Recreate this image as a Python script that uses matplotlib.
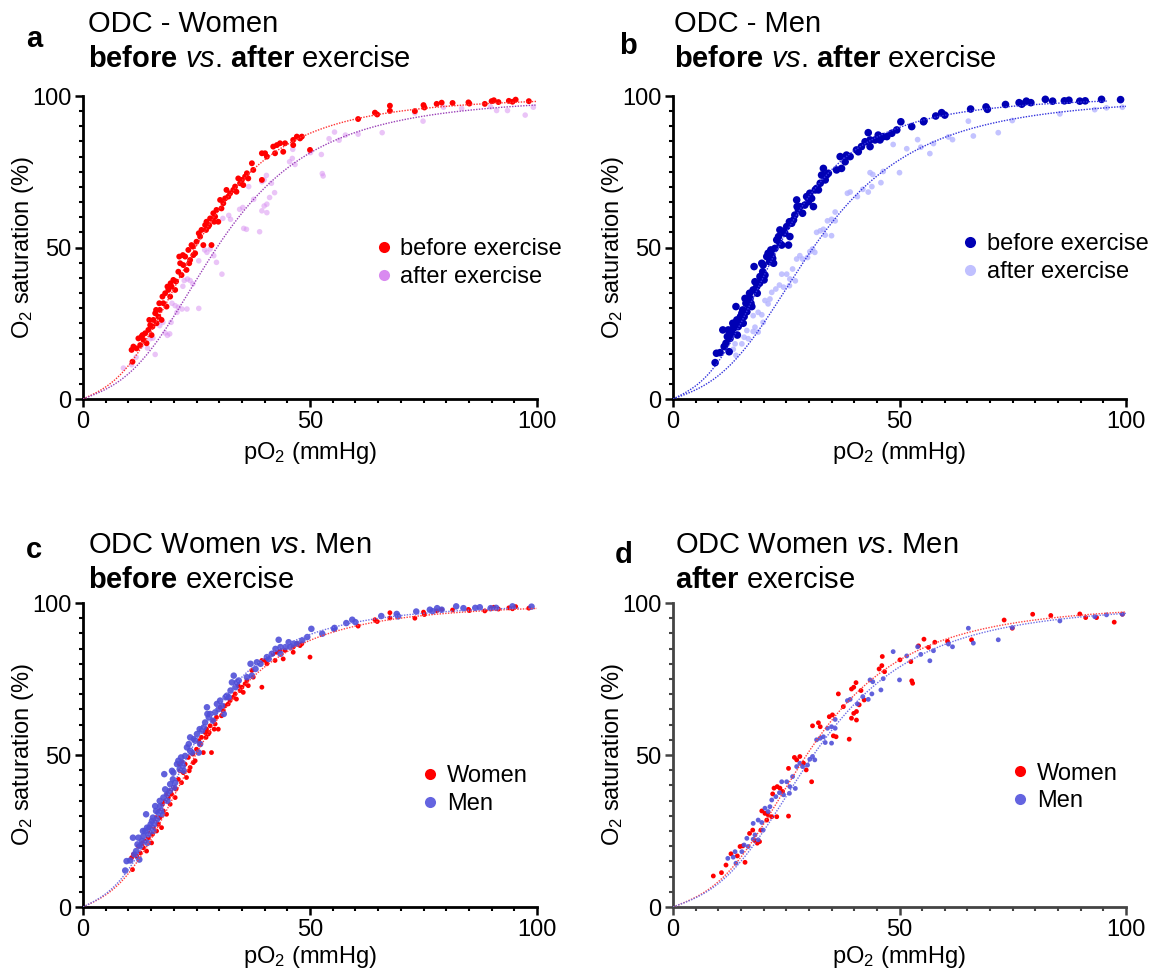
import numpy as np
import matplotlib
matplotlib.use('Agg')
import matplotlib.pyplot as plt
from matplotlib.ticker import MultipleLocator
from matplotlib.lines import Line2D

plt.rcParams['font.family'] = ['Liberation Sans', 'DejaVu Sans']
plt.rcParams['mathtext.fontset'] = 'custom'
plt.rcParams['mathtext.rm'] = 'Liberation Sans'
plt.rcParams['mathtext.it'] = 'Liberation Sans:italic'
plt.rcParams['mathtext.bf'] = 'Liberation Sans:bold'

# pO2 (mmHg), O2 saturation (%)
women_before = np.array([
    (10.9, 12.3), (11.1, 17.3), (11.8, 16.7), (12.6, 17.8), (12.9, 20.6), (13.3, 19.5), (13.7, 21.7),
    (14.0, 18.4), (14.4, 22.8), (14.8, 24.4), (15.1, 21.1), (15.5, 26.1), (15.9, 28.3), (16.2, 25.0),
    (16.6, 27.2), (16.9, 29.4), (17.3, 26.1), (17.7, 31.6), (18.1, 34.9), (18.4, 30.5), (18.8, 36.0),
    (19.2, 33.8), (19.5, 37.1), (19.9, 39.3), (20.3, 36.0), (21.0, 42.0), (21.4, 44.8), (21.7, 40.9),
    (22.1, 44.2), (22.5, 47.0), (22.8, 42.6), (23.2, 49.2), (23.6, 45.9), (23.9, 50.8), (24.3, 47.5),
    (24.7, 48.1), (25.0, 51.9), (25.8, 53.6), (26.1, 55.8), (26.5, 50.8), (26.9, 57.4), (27.2, 58.5),
    (27.6, 56.9), (28.0, 59.6), (28.3, 50.8), (28.7, 61.3), (29.1, 60.2), (29.4, 62.4), (29.8, 58.5),
    (30.2, 65.7), (30.9, 64.6), (31.3, 66.2), (31.6, 69.0), (32.4, 67.9), (33.1, 69.0), (33.5, 70.1),
    (33.8, 68.4), (34.2, 72.8), (35.0, 72.3), (35.3, 70.6), (35.7, 73.4), (36.4, 72.8), (37.2, 77.8),
    (37.5, 75.6), (39.4, 81.1), (39.4, 72.3), (40.1, 81.1), (40.5, 80.0), (41.9, 83.3), (42.3, 81.1),
    (42.7, 83.8), (43.4, 84.4), (44.1, 81.6), (44.5, 84.4), (46.3, 85.5), (46.3, 83.8), (47.1, 86.6),
    (47.8, 86.0), (48.2, 86.6), (50.0, 82.2),
    (10.7, 16.2), (12.2, 20.0), (13.1, 21.1), (14.6, 26.1), (15.3, 23.9), (16.1, 29.4), (16.8, 31.6),
    (17.5, 33.8), (18.6, 37.1), (19.3, 38.2), (20.5, 38.8), (21.2, 47.0), (22.0, 47.5), (23.4, 44.8),
    (24.2, 50.3), (25.5, 54.7), (27.1, 55.8), (27.8, 57.4), (28.9, 58.5), (30.5, 62.9), (32.0, 66.8),
    (34.6, 71.2), (36.1, 74.5),
    (60.6, 92.4), (64.3, 94.5), (64.8, 93.9), (67.6, 96.8), (67.6, 95.1), (73.1, 95.0), (75.0, 97.0),
    (75.2, 96.2), (77.9, 97.4), (79.0, 97.8), (81.4, 97.7), (84.9, 97.9), (85.1, 97.5), (88.5, 97.4),
    (90.0, 98.3), (90.5, 98.6), (91.5, 98.0), (93.8, 98.4), (94.6, 98.1), (95.3, 98.8), (98.2, 98.3),
])

women_after = np.array([
    (8.9, 10.2), (10.7, 11.3), (11.7, 13.8), (12.8, 17.5), (14.2, 16.8), (14.8, 19.9), (15.4, 20.1),
    (15.9, 14.7), (16.9, 24.2), (17.6, 25.3), (18.1, 21.8), (18.6, 21.0), (19.1, 21.5), (19.4, 25.3),
    (19.6, 31.6), (20.3, 30.8), (20.7, 28.6), (21.0, 30.3), (21.8, 29.7), (22.9, 29.7), (25.5, 29.9),
    (22.0, 37.2), (22.3, 39.1), (23.0, 39.6), (23.6, 39.1), (24.2, 38.0), (25.5, 45.6), (26.8, 49.2),
    (27.3, 48.4), (28.0, 49.5), (29.4, 45.1), (30.6, 41.2), (28.8, 47.3), (30.8, 59.6), (32.1, 60.6),
    (32.5, 59.3), (35.4, 56.3), (36.0, 56.0), (34.5, 62.6), (35.2, 63.2), (37.6, 65.9), (38.9, 55.2),
    (39.4, 62.1), (40.5, 61.5), (39.9, 63.7), (40.5, 64.3), (41.1, 66.5), (36.5, 70.1), (39.4, 71.7),
    (39.9, 72.3), (40.4, 73.8), (41.5, 71.2), (42.2, 68.1), (45.5, 78.3), (46.1, 79.4), (46.2, 82.4),
    (46.7, 77.4), (50.1, 81.3), (52.5, 80.7), (52.7, 74.4), (52.9, 73.6), (54.2, 85.9), (55.4, 88.1),
    (56.4, 85.4), (57.8, 87.1), (60.6, 87.4), (65.9, 87.9), (73.1, 94.4), (74.9, 91.7), (79.4, 96.3),
    (83.4, 95.9), (89.8, 96.4), (91.1, 95.2), (93.5, 95.2), (97.4, 93.7), (99.2, 96.3),
])

men_before = np.array([
    (9.3, 12.0), (9.6, 15.1), (10.4, 15.3), (11.0, 22.8), (11.3, 17.3), (11.7, 18.4), (12.0, 20.6),
    (12.4, 15.6), (12.6, 20.0), (13.0, 21.7), (13.3, 23.3), (13.7, 25.0), (13.9, 30.5), (14.2, 21.1),
    (14.6, 26.1), (14.9, 27.2), (15.2, 28.3), (15.5, 25.0), (15.9, 33.2), (16.3, 28.8), (16.6, 31.0),
    (17.0, 33.2), (17.4, 30.5), (17.7, 36.0), (17.9, 43.7), (18.5, 37.1), (19.1, 38.2), (19.2, 40.4),
    (19.8, 42.0), (19.9, 44.2), (20.3, 40.9), (20.7, 47.0), (21.3, 45.3), (21.8, 47.5), (22.2, 44.8),
    (22.5, 49.7), (22.9, 52.5), (23.6, 51.4), (24.0, 50.8), (23.6, 55.8), (24.7, 54.7), (25.1, 56.9),
    (25.5, 50.8), (25.8, 53.6), (26.2, 58.0), (26.6, 59.1), (26.9, 60.7), (27.3, 65.7), (27.7, 62.4),
    (28.0, 63.5), (28.6, 61.3), (29.1, 64.0), (29.9, 65.1), (30.2, 67.9), (30.6, 66.2), (31.0, 63.5),
    (31.7, 69.5), (32.1, 69.0), (32.8, 73.9), (33.2, 76.1), (33.6, 72.3), (33.9, 73.9), (36.1, 75.6),
    (37.2, 76.1), (36.9, 80.0), (38.0, 78.3), (38.3, 80.5), (40.5, 82.2), (40.9, 81.6), (42.4, 84.9),
    (43.1, 87.9), (43.5, 85.5), (43.5, 83.3), (44.6, 85.5), (45.3, 87.1), (46.4, 86.6), (47.2, 86.6),
    (48.3, 87.7), (49.4, 88.8), (50.3, 91.5), (52.7, 89.9), (55.3, 91.5),
    (12.2, 22.8), (13.2, 25.0), (14.1, 26.1), (14.4, 23.9), (15.4, 29.4), (15.7, 27.2), (16.1, 31.6),
    (16.9, 34.9), (17.2, 31.6), (18.1, 38.7), (18.6, 34.9), (19.6, 44.8), (20.1, 39.3), (21.0, 48.1),
    (21.6, 49.2), (22.0, 46.4), (23.3, 53.6), (24.4, 55.2), (25.7, 58.5), (27.4, 63.5), (29.5, 66.8),
    (31.4, 69.0), (32.5, 71.2), (34.3, 74.5), (39.1, 80.0), (41.6, 83.3), (45.7, 85.5),
    (55.4, 91.8), (58.0, 93.4), (59.3, 94.5), (60.0, 93.7), (65.7, 95.7), (69.1, 96.4), (69.4, 95.6),
    (73.4, 97.2), (76.4, 97.8), (77.0, 97.3), (78.0, 98.3), (79.0, 97.8), (82.2, 98.9), (83.8, 98.3),
    (86.4, 98.4), (87.4, 98.6), (89.8, 98.3), (91.0, 98.4), (94.6, 98.9), (98.8, 98.8),
])

men_after = np.array([
    (12.1, 16.0), (13.3, 16.4), (13.7, 18.2), (13.9, 14.4), (15.2, 18.2), (15.7, 20.4), (16.3, 22.6),
    (16.6, 19.9), (17.7, 22.3), (18.1, 23.7), (18.8, 22.1), (17.7, 27.5), (18.8, 28.6), (19.6, 27.8),
    (19.9, 25.3), (20.3, 32.5), (21.0, 31.4), (21.4, 33.0), (21.8, 35.2), (22.7, 36.3), (23.5, 37.6),
    (24.0, 41.2), (24.4, 36.9), (25.1, 41.2), (25.7, 37.4), (25.8, 39.6), (27.0, 39.0), (26.4, 42.9),
    (27.3, 46.2), (28.0, 47.3), (28.6, 46.2), (29.7, 46.7), (30.2, 48.6), (31.3, 48.4), (30.8, 49.5),
    (31.7, 55.0), (32.5, 55.5), (33.2, 56.0), (33.6, 54.1), (35.0, 53.9), (34.1, 58.8), (35.0, 59.3),
    (35.8, 61.7), (35.8, 58.8), (38.5, 67.9), (39.1, 68.3), (40.7, 66.8), (41.9, 69.2), (43.1, 68.3),
    (43.9, 70.1), (43.5, 74.7), (44.1, 74.1), (45.9, 71.4), (46.4, 75.1), (48.6, 84.0), (50.0, 74.7),
    (51.6, 82.6), (54.0, 85.6), (54.7, 83.1), (56.7, 81.0), (57.5, 84.3), (60.8, 86.5), (61.7, 85.6),
    (65.2, 91.7), (66.3, 86.8), (71.8, 87.9), (74.9, 91.9), (85.4, 94.1), (93.1, 95.5), (95.7, 96.1),
    (99.2, 96.3),
])

# fitted curves: P50 (mmHg) and last pO2 of each fitted line
p50 = {'women_before': 24.8, 'women_after': 29.5, 'men_before': 23.2, 'men_after': 31.0}
p_end = {'women_before': 100, 'women_after': 100, 'men_before': 96, 'men_after': 100}


def odc(p, p50_val):
    # Severinghaus equation shifted to the fitted P50
    pv = p * 26.86 / p50_val
    return 100.0 / (23400.0 / (pv ** 3 + 150.0 * pv + 1e-9) + 1.0)


W, H = 1160, 971
fig = plt.figure(figsize=(W / 100, H / 100), dpi=100)


def box(x0, y0, x1, y1):
    return [x0 / W, 1 - y1 / H, (x1 - x0) / W, (y1 - y0) / H]


def setup(ax, spine_col='black', xpad=5):
    ax.set_xlim(0, 100)
    ax.set_ylim(0, 100)
    for s in ['top', 'right']:
        ax.spines[s].set_visible(False)
    for s in ['left', 'bottom']:
        ax.spines[s].set_linewidth(2.0)
        ax.spines[s].set_color(spine_col)
    ax.set_xticks([0, 50, 100])
    ax.set_yticks([0, 50, 100])
    ax.xaxis.set_minor_locator(MultipleLocator(5))
    ax.yaxis.set_minor_locator(MultipleLocator(5))
    ax.tick_params(which='major', length=5.5, width=1.8, labelsize=17, pad=3, color=spine_col)
    ax.tick_params(which='minor', length=3, width=1.5, color=spine_col)
    ax.set_xlabel(r'p$\mathrm{O}_2$ (mmHg)', fontsize=17, labelpad=xpad)
    ax.set_ylabel(r'$\mathrm{O}_2$ saturation (%)', fontsize=17, labelpad=-3)


def curve(ax, key, color):
    p = np.linspace(0, p_end[key], 300)
    ax.plot(p, odc(p, p50[key]), ls=(0, (1, 1)), lw=1.0, color=color, zorder=4)


def legend(ax, colors, labels, fx, fy):
    handles = [Line2D([], [], marker='o', ls='none', ms=8, color=c, markeredgewidth=0) for c in colors]
    ax.legend(handles, labels, loc='center left', bbox_to_anchor=(fx, fy), frameon=False,
              fontsize=17, handlelength=0.5, handletextpad=0.45, borderpad=0,
              borderaxespad=0, labelspacing=0.25)


def titles(x, y1, y2, letter, lx, ly, line1, line2):
    fig.text(lx / W, 1 - ly / H, letter, fontsize=21, fontweight='bold', va='baseline')
    fig.text(x / W, 1 - y1 / H, line1, fontsize=21, va='baseline')
    fig.text(x / W, 1 - y2 / H, line2, fontsize=21, va='baseline')


# a: women before vs after
ax = fig.add_axes(box(83, 96, 537, 399))
setup(ax)
ax.scatter(women_after[:, 0], women_after[:, 1], s=16, color='#D994F2', alpha=0.55,
           edgecolors='none', zorder=2, clip_on=False)
ax.scatter(women_before[:, 0], women_before[:, 1], s=18, color='#FF0000',
           edgecolors='none', zorder=3, clip_on=False)
curve(ax, 'women_before', '#FF3030')
curve(ax, 'women_after', '#9A40B8')
legend(ax, ['#FF0000', '#D98AF0'], ['before exercise', 'after exercise'], 0.649, 0.449)
titles(88, 32, 67, 'a', 26, 47, 'ODC - Women',
       r'$\mathbf{before}$ $\mathit{vs}$. $\mathbf{after}$ exercise')

# b: men before vs after
ax = fig.add_axes(box(673, 96, 1126, 399))
setup(ax)
ax.scatter(men_after[:, 0], men_after[:, 1], s=17, color='#B4B4FF', alpha=0.8,
           edgecolors='none', zorder=2, clip_on=False)
ax.scatter(men_before[:, 0], men_before[:, 1], s=30, color='#0000B4',
           edgecolors='none', zorder=3, clip_on=False)
curve(ax, 'men_before', '#3333DD')
curve(ax, 'men_after', '#3333DD')
legend(ax, ['#0000B4', '#C0C0FF'], ['before exercise', 'after exercise'], 0.643, 0.465)
titles(674, 32, 67, 'b', 619, 54, 'ODC - Men',
       r'$\mathbf{before}$ $\mathit{vs}$. $\mathbf{after}$ exercise')

# c: women vs men before
ax = fig.add_axes(box(83, 603, 537, 907))
setup(ax, xpad=2)
ax.scatter(women_before[:, 0], women_before[:, 1], s=12, color='#FF0000',
           edgecolors='none', zorder=2, clip_on=False)
ax.scatter(men_before[:, 0], men_before[:, 1], s=22, color='#5050D8', alpha=0.9,
           edgecolors='none', zorder=3, clip_on=False)
curve(ax, 'women_before', '#FF4040')
curve(ax, 'men_before', '#6F6FE6')
legend(ax, ['#FF0000', '#6464E0'], ['Women', 'Men'], 0.752, 0.385)
titles(88, 553, 588, 'c', 26, 558, r'ODC Women $\mathit{vs}$. Men',
       r'$\mathbf{before}$ exercise')

# d: women vs men after
ax = fig.add_axes(box(673, 603, 1126, 907))
setup(ax, '#444444', xpad=2)
ax.scatter(women_after[:, 0], women_after[:, 1], s=12, color='#FF0000',
           edgecolors='none', zorder=2, clip_on=False)
ax.scatter(men_after[:, 0], men_after[:, 1], s=12, color='#5050D8', alpha=0.9,
           edgecolors='none', zorder=3, clip_on=False)
curve(ax, 'women_after', '#FF4040')
curve(ax, 'men_after', '#6F6FE6')
legend(ax, ['#FF0000', '#6464E0'], ['Women', 'Men'], 0.754, 0.393)
titles(675, 553, 588, 'd', 615, 563, r'ODC Women $\mathit{vs}$. Men',
       r'$\mathbf{after}$ exercise')

fig.savefig('out.png', dpi=100)
